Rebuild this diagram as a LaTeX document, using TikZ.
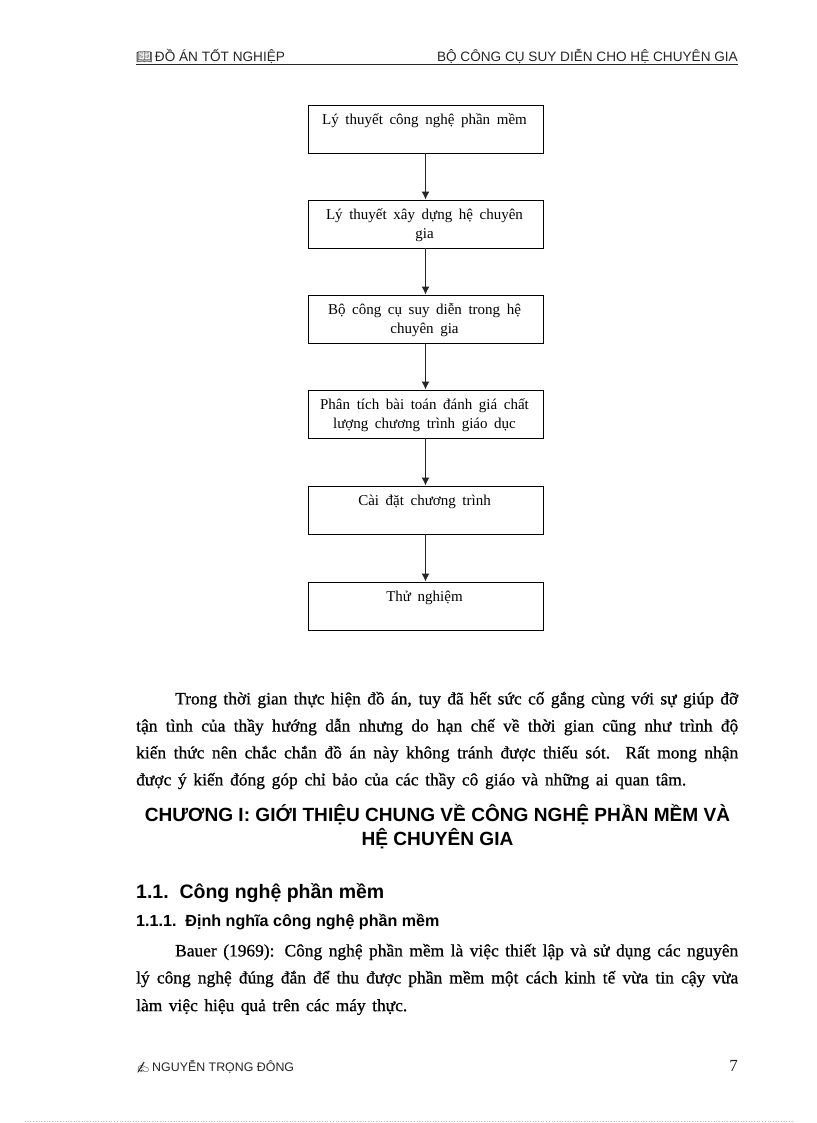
\documentclass[tikz,border=0pt]{standalone}
\usepackage{fontspec}
\setmainfont{Liberation Serif}
\setsansfont{Liberation Sans}
\newfontfamily\emojifont{Noto Emoji}
\newfontfamily\bodyfont[FakeBold=0.7]{Liberation Serif}
\usetikzlibrary{arrows.meta}
\newcommand{\bodyline}[2]{\makebox[#1pt][s]{#2}}
\tikzset{
  x=1pt,y=-1pt,
  flowbox/.style={draw=black,line width=0.9pt,inner sep=0pt,fill=white},
  flowarrow/.style={draw=black!85,line width=1.2pt,-{Latex[length=8pt,width=8pt]}},
  headtext/.style={font=\sffamily\fontsize{13.6}{15}\selectfont,inner sep=0pt,text=black!85},
  foottext/.style={font=\sffamily\fontsize{12.4}{15}\selectfont,inner sep=0pt,text=black!85},
  bodytext/.style={font=\bodyfont\fontsize{17.4}{20}\selectfont,inner sep=0pt,anchor=west,text=black},
  chaptitle/.style={font=\sffamily\bfseries\fontsize{19.1}{24}\selectfont,inner sep=0pt,text=black},
}
\newcommand{\flowcontent}[1]{\makebox[235pt][l]{\parbox[c][48pt][t]{233pt}{\centering\fontsize{15}{19}\selectfont\spaceskip=6.6pt\rule{0pt}{19.5pt}#1\par}}}
\begin{document}
\begin{tikzpicture}
\useasboundingbox (0,0) rectangle (816,1123);
\fill[white] (0,0) rectangle (816,1123);
% header
\node[headtext,anchor=west] (hl) at (136,56) {{\emojifont\fontsize{13}{13}\selectfont 📖}\,ĐỒ ÁN TỐT NGHIỆP};
\node[headtext,anchor=east] (hr) at (738,56) {BỘ CÔNG CỤ SUY DIỄN CHO HỆ CHUYÊN GIA};
\coordinate (rl) at (136,65); \coordinate (rr) at (738,65);
\draw[line width=1pt,black!85] (rl) -- (rr);
% flow
\node[flowbox] (b1) at (425.5,129) {\flowcontent{Lý thuyết công nghệ phần mềm}};
\node[flowbox] (b2) at (425.5,224) {\flowcontent{Lý thuyết xây dựng hệ chuyên\\gia}};
\node[flowbox] (b3) at (425.5,319) {\flowcontent{Bộ công cụ suy diễn trong hệ\\chuyên gia}};
\node[flowbox] (b4) at (425.5,414) {\flowcontent{Phân tích bài toán đánh giá chất\\lượng chương trình giáo dục}};
\node[flowbox] (b5) at (425.5,510) {\flowcontent{Cài đặt chương trình}};
\node[flowbox] (b6) at (425.5,606) {\flowcontent{Thử nghiệm}};
\foreach \a/\b in {b1/b2,b2/b3,b3/b4,b4/b5,b5/b6} \draw[flowarrow] (\a) -- (\b);
% paragraph
\node[bodytext] (p1) at (175,700) {\bodyline{563}{Trong thời gian thực hiện đồ án, tuy đã hết sức cố gắng cùng với sự giúp đỡ}};
\node[bodytext] (p2) at (136,727) {\bodyline{602}{tận tình của thầy hướng dẫn nhưng do hạn chế về thời gian cũng như trình độ}};
\node[bodytext] (p3) at (136,754) {\bodyline{602}{kiến thức nên chắc chắn đồ án này không tránh được thiếu sót. Rất mong nhận}};
\node[bodytext] (p4) at (136,781) {\bodyline{550}{được ý kiến đóng góp chỉ bảo của các thầy cô giáo và những ai quan tâm.}};
% chapter
\node[chaptitle] (c1) at (437.5,815) {CHƯƠNG I: GIỚI THIỆU CHUNG VỀ CÔNG NGHỆ PHẦN MỀM VÀ};
\node[chaptitle] (c2) at (437.5,839) {HỆ CHUYÊN GIA};
\node[chaptitle,anchor=west,font=\sffamily\bfseries\fontsize{19.5}{22}\selectfont] (s1) at (136,893) {1.1.\ \ Công nghệ phần mềm};
\node[chaptitle,anchor=west,font=\sffamily\bfseries\fontsize{16.1}{18}\selectfont] (s2) at (136,922) {1.1.1.\ \ Định nghĩa công nghệ phần mềm};
% Bauer
\node[bodytext] (q1) at (175,952) {\bodyline{563}{Bauer (1969): Công nghệ phần mềm là việc thiết lập và sử dụng các nguyên}};
\node[bodytext] (q2) at (136,979) {\bodyline{602}{lý công nghệ đúng đắn để thu được phần mềm một cách kinh tế vừa tin cậy vừa}};
\node[bodytext] (q3) at (136,1007) {\bodyline{271}{làm việc hiệu quả trên các máy thực.}};
% footer
\node[foottext,anchor=west] (fl) at (136,1067) {{\emojifont\fontsize{11}{11}\selectfont ✍}\,NGUYỄN TRỌNG ĐÔNG};
\node[anchor=east,inner sep=0pt,font=\fontsize{17}{20}\selectfont,text=black!85] (fr) at (738,1066) {7};
\coordinate (dl) at (25,1121.5); \coordinate (dr) at (792,1121.5);
\draw[black!25,line width=0.7pt,dotted] (dl) -- (dr);
\end{tikzpicture}
\end{document}
